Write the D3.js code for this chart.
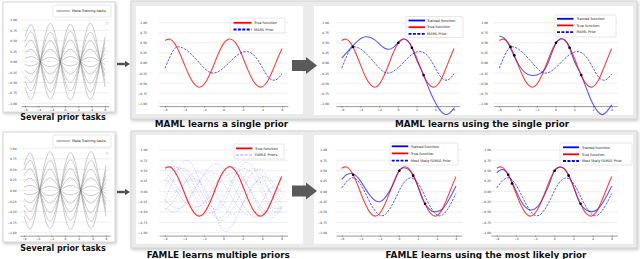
<!DOCTYPE html>
<html><head><meta charset="utf-8">
<script src="https://cdn.jsdelivr.net/npm/d3@7"></script>
<style>
html,body{margin:0;padding:0;background:#fff;overflow:hidden;}
svg{display:block;font-family:"DejaVu Sans",sans-serif;}
</style></head><body>
<div id="fig"></div>
<script>
// ---- data ----
const xsFine = [-6,-5.5,-5,-4.5,-4,-3.5,-3,-2.5,-2,-1.5,-1,-0.5,0,0.5,1,1.5,2,2.5,3,3.5,4,4.5,5,5.5,6];
const xsCoarse = [-6,-5,-4,-3,-2,-1,0,1,2,3,4,5,6];
const xTicks = [-6,-4,-2,0,2,4,6];
const yTicks = [1,0.75,0.5,0.25,0,-0.25,-0.5,-0.75,-1];

const trueFn = [0.56,0.59,0.48,0.25,-0.04,-0.32,-0.52,-0.60,-0.53,-0.33,-0.05,0.25,0.48,0.59,0.56,0.40,0.13,-0.17,-0.42,-0.57,-0.59,-0.46,-0.21,0.08,0.36];
const mamlPrior = [-0.13,0.15,0.36,0.40,0.35,0.26,0.14,0.01,-0.12,-0.22,-0.25,-0.21,-0.12,-0.01,0.11,0.21,0.27,0.28,0.22,0.08,-0.12,-0.32,-0.42,-0.40,-0.27];
const mamlTrained4 = [0.12,0.25,0.38,0.50,0.60,0.65,0.64,0.58,0.48,0.38,0.34,0.38,0.50,0.59,0.56,0.38,0.08,-0.16,-0.45,-0.74,-0.98,-1.17,-1.27,-1.25,-1.12];
const mamlTrained5 = [0.67,0.62,0.46,0.21,-0.02,-0.18,-0.28,-0.31,-0.30,-0.24,-0.10,0.18,0.47,0.60,0.57,0.38,0.05,-0.18,-0.45,-0.75,-1.02,-1.20,-1.28,-1.20,-1.04];
const famlePrior = [0.08,0.23,0.32,0.30,0.16,-0.05,-0.28,-0.47,-0.58,-0.57,-0.44,-0.24,0.00,0.20,0.31,0.31,0.20,0.00,-0.24,-0.44,-0.57,-0.58,-0.47,-0.28,-0.05];
const famleTrained4 = [0.29,0.40,0.43,0.38,0.24,0.06,-0.11,-0.22,-0.25,-0.17,0.00,0.22,0.49,0.57,0.53,0.38,0.12,-0.20,-0.38,-0.48,-0.49,-0.44,-0.30,-0.10,0.13];
const famleTrained5 = [0.45,0.53,0.47,0.28,0.02,-0.22,-0.38,-0.45,-0.42,-0.30,-0.08,0.18,0.49,0.58,0.55,0.38,0.12,-0.20,-0.38,-0.47,-0.49,-0.44,-0.30,-0.10,0.13];

const ctx4X = [-4.8,0.05,1.5,2.75];
const ctx4Y = [0.40,0.50,0.38,-0.30];
const ctx5X = [-4.8,-4.4,0.05,1.5,2.75];
const ctx5Y = [0.40,0.19,0.50,0.38,-0.30];

const metaTasks = [
  [0.60,0.88,0.28,-0.60,-0.88,-0.28,0.60,0.88,0.28,-0.60,-0.88,-0.28,0.60],
  [0.48,0.71,0.22,-0.48,-0.71,-0.22,0.48,0.71,0.22,-0.48,-0.71,-0.22,0.48],
  [0.35,0.51,0.16,-0.35,-0.51,-0.16,0.35,0.51,0.16,-0.35,-0.51,-0.16,0.35],
  [0.20,0.29,0.09,-0.20,-0.29,-0.09,0.20,0.29,0.09,-0.20,-0.29,-0.09,0.20],
  [0.08,0.12,0.04,-0.08,-0.12,-0.04,0.08,0.12,0.04,-0.08,-0.12,-0.04,0.08],
  [-0.07,-0.10,-0.03,0.07,0.10,0.03,-0.07,-0.10,-0.03,0.07,0.10,0.03,-0.07],
  [-0.20,-0.29,-0.09,0.20,0.29,0.09,-0.20,-0.29,-0.09,0.20,0.29,0.09,-0.20],
  [-0.34,-0.49,-0.15,0.34,0.49,0.15,-0.34,-0.49,-0.15,0.34,0.49,0.15,-0.34],
  [-0.47,-0.69,-0.22,0.47,0.69,0.22,-0.47,-0.69,-0.22,0.47,0.69,0.22,-0.47],
  [-0.61,-0.90,-0.28,0.61,0.90,0.28,-0.61,-0.90,-0.28,0.61,0.90,0.28,-0.61]
];
const famlePriors = [
  [-0.22,0.36,0.74,0.56,0.00,-0.42,-0.31,0.24,0.66,0.60,0.12,-0.37,-0.38],
  [-0.30,-0.05,0.20,0.30,0.10,-0.45,-0.95,-0.80,-0.30,0.15,0.20,-0.05,-0.30],
  [0.50,0.60,0.35,-0.10,-0.45,-0.50,-0.15,0.30,0.55,0.40,-0.05,-0.45,-0.50],
  [0.10,0.45,0.55,0.30,-0.15,-0.55,-0.60,-0.20,0.30,0.55,0.35,-0.10,-0.45],
  [-0.45,-0.20,0.20,0.45,0.40,0.05,-0.35,-0.55,-0.30,0.10,0.35,0.25,-0.05],
  [0.30,0.05,-0.25,-0.40,-0.25,0.10,0.45,0.60,0.35,-0.10,-0.50,-0.65,-0.40],
  [-0.20,-0.40,-0.35,0.00,0.40,0.65,0.55,0.15,-0.30,-0.60,-0.55,-0.20,0.10],
  [0.45,0.20,-0.15,-0.35,-0.30,0.00,0.30,0.45,0.30,-0.05,-0.40,-0.55,-0.35],
  [-0.40,-0.50,-0.30,0.05,0.40,0.45,0.20,-0.20,-0.50,-0.55,-0.25,0.10,0.00],
  [0.25,0.55,0.50,0.15,-0.30,-0.60,-0.70,-0.40,0.05,0.45,0.50,0.15,-0.20]
];

const titles = ['Several prior tasks','MAML learns a single prior','MAML learns using the single prior',
                'Several prior tasks','FAMLE learns multiple priors','FAMLE learns using the most likely prior'];

// ---- drawing ----
const W = 640, H = 259;
const svg = d3.select('#fig').append('svg').attr('width', W).attr('height', H);

const defs = svg.append('defs');
const sh = defs.append('filter').attr('id','shadow').attr('x','-5%').attr('y','-5%').attr('width','112%').attr('height','115%');
sh.append('feDropShadow').attr('dx',1).attr('dy',1.5).attr('stdDeviation',1.5)
  .attr('flood-color','#888').attr('flood-opacity',0.45);

const RED = 'red', BLUE = 'blue';

// frames
function box(x, y, w, h, fill, stroke, shadow){
  const r = svg.append('rect').attr('x',x).attr('y',y).attr('width',w).attr('height',h)
    .attr('fill',fill).attr('stroke',stroke).attr('stroke-width',1);
  if (shadow) r.attr('filter','url(#shadow)');
  return r;
}
box(3, 2, 112, 110, '#fff', '#d6d6d6', true);
box(3, 132, 112, 110, '#fff', '#d6d6d6', true);
box(131, 1, 506, 118, '#ebebeb', '#d4d4d4', true);
box(131, 131, 506, 117, '#ebebeb', '#d4d4d4', true);
box(136, 6, 167, 108, '#fff', 'none', false);
box(314, 6, 319, 109, '#fff', 'none', false);
box(136, 135, 167, 109, '#fff', 'none', false);
box(314, 135, 319, 109, '#fff', 'none', false);

// arrows
function arrow(x0, x1, xh, cy, shaftH, headH, col){
  svg.append('path')
    .attr('d', `M${x0},${cy-shaftH/2}L${xh},${cy-shaftH/2}L${xh},${cy-headH/2}L${x1},${cy}L${xh},${cy+headH/2}L${xh},${cy+shaftH/2}L${x0},${cy+shaftH/2}Z`)
    .attr('fill', col);
}
arrow(117, 130, 125, 64, 2.4, 6.5, '#555');
arrow(117, 130, 125, 192, 2.4, 6.5, '#555');
arrow(292, 317, 306, 65.5, 11, 17, '#5a5a5a');
arrow(292, 317, 306, 191, 11, 17, '#5a5a5a');

function panel(cfg){
  const ppu = (cfg.x1 - cfg.x0) / 12;
  const x = d3.scaleLinear().domain([-6.6, 6.6]).range([cfg.x0 - 0.6*ppu, cfg.x1 + 0.6*ppu]);
  const y = d3.scaleLinear().domain([-1, 1]).range([cfg.ym1, cfg.y1]);
  const g = svg.append('g');

  g.selectAll('line.grid').data(yTicks).join('line').attr('class','grid')
    .attr('x1', x(-6.6)).attr('x2', x(6.6)).attr('y1', d => y(d)).attr('y2', d => y(d))
    .attr('stroke', '#e3e3e3').attr('stroke-width', 0.6);

  const ya = g.append('g').attr('transform', `translate(${cfg.labelRight},0)`)
    .call(d3.axisLeft(y).tickValues(yTicks).tickSize(0).tickPadding(0).tickFormat(d3.format('.2f')));
  ya.select('.domain').remove();
  ya.selectAll('text').attr('font-size', 3).attr('font-family','DejaVu Sans').attr('fill','#333');

  const xa = g.append('g').attr('transform', `translate(0,${y(-1.07)})`)
    .call(d3.axisBottom(x).tickValues(xTicks).tickSize(1.5).tickSizeOuter(0).tickPadding(0.8).tickFormat(d3.format('d')));
  xa.select('.domain').attr('stroke', '#555').attr('stroke-width', 0.6);
  xa.selectAll('.tick line').attr('stroke', '#555').attr('stroke-width', 0.5);
  xa.selectAll('text').attr('font-size', 3).attr('font-family','DejaVu Sans').attr('fill','#333');

  const line = xs => d3.line().x((d, i) => x(xs[i])).y(d => y(d)).curve(d3.curveNatural);
  return {g, x, y, line};
}

function curve(p, xs, vals, col, w, op, dash){
  const path = p.g.append('path').datum(vals).attr('d', p.line(xs))
    .attr('fill','none').attr('stroke', col).attr('stroke-width', w).attr('stroke-opacity', op);
  if (dash) path.attr('stroke-dasharray', dash);
}

function points(p, xs, ys){
  p.g.selectAll('circle.ctx').data(xs).join('circle').attr('class','ctx')
    .attr('cx', d => p.x(d)).attr('cy', (d, i) => p.y(ys[i])).attr('r', 1.3).attr('fill','#000');
}

function legend(cfg){
  const g = svg.append('g');
  g.append('rect').attr('x', cfg.x).attr('y', cfg.y).attr('width', cfg.w).attr('height', cfg.h)
    .attr('rx', 1).attr('fill','#fff').attr('fill-opacity',0.85).attr('stroke','#cfcfcf').attr('stroke-width',0.5);
  cfg.rows.forEach((r, i) => {
    const ry = cfg.rowY[i];
    const l = g.append('line').attr('x1', cfg.hx0).attr('x2', cfg.hx1).attr('y1', ry).attr('y2', ry)
      .attr('stroke', r.col).attr('stroke-width', r.w).attr('stroke-opacity', r.op);
    if (r.dash) l.attr('stroke-dasharray', r.dash);
    g.append('text').attr('x', cfg.tx).attr('y', ry + 1.2).attr('font-size', 3.5).attr('fill','#222').text(r.label);
  });
}

const rowTrue = {label:'True function', col:RED, w:1.8, op:1};
const rowTrained = {label:'Trained function', col:BLUE, w:1.8, op:1};
const rowMaml = {label:'MAML Prior', col:BLUE, w:1.8, op:1, dash:'3,1.4'};

// Panel A and E: meta-training tasks
[{x0:25, x1:105, y1:20, ym1:103.3, labelRight:17, top:0}, {x0:24, x1:106, y1:148.3, ym1:232.7, labelRight:16.7, top:130}].forEach(cfg => {
  const p = panel(cfg);
  metaTasks.forEach(t => curve(p, xsCoarse, t, '#7a7a7a', 0.7, 0.55));
  legend({x:53, y:5+cfg.top, w:58, h:12, rowY:[11+cfg.top], hx0:56.5, hx1:70, tx:72,
          rows:[{label:'Meta-Training tasks', col:'#999', w:1.5, op:0.8}]});
  svg.append('rect').attr('x',106).attr('y',22.5+cfg.top).attr('width',2).attr('height',2)
    .attr('fill','none').attr('stroke','#ccc').attr('stroke-width',0.4);
});

// Panel B: MAML prior
{
  const p = panel({x0:165, x1:282, y1:22.7, ym1:103.3, labelRight:147});
  curve(p, xsFine, trueFn, RED, 1.1, 0.75);
  curve(p, xsFine, mamlPrior, BLUE, 1.0, 0.65, '2.4,1.2');
  legend({x:230, y:18, w:55, h:15, rowY:[22.8, 29.5], hx0:233.5, hx1:251.5, tx:254, rows:[rowTrue, rowMaml]});
}
// Panel C
{
  const p = panel({x0:341.7, x1:454, y1:22.7, ym1:103.3, labelRight:329});
  curve(p, xsFine, mamlTrained4, BLUE, 1.1, 0.65);
  curve(p, xsFine, trueFn, RED, 1.1, 0.75);
  curve(p, xsFine, mamlPrior, BLUE, 1.0, 0.65, '2.4,1.2');
  points(p, ctx4X, ctx4Y);
  legend({x:406, y:16.5, w:57, h:21, rowY:[20.5, 27.2, 33.8], hx0:408.5, hx1:425, tx:427, rows:[rowTrained, rowTrue, rowMaml]});
}
// Panel D
{
  const p = panel({x0:499.3, x1:611.7, y1:22.7, ym1:103.3, labelRight:488});
  curve(p, xsFine, mamlTrained5, BLUE, 1.1, 0.65);
  curve(p, xsFine, trueFn, RED, 1.1, 0.75);
  curve(p, xsFine, mamlPrior, BLUE, 1.0, 0.65, '2.4,1.2');
  points(p, ctx5X, ctx5Y);
  legend({x:555, y:15, w:61, h:22, rowY:[18.8, 25.4, 32.2], hx0:557, hx1:573.5, tx:576.5, rows:[rowTrained, rowTrue, rowMaml]});
}
// Panel F: FAMLE priors
{
  const p = panel({x0:165, x1:281.7, y1:150, ym1:232.7, labelRight:147.3});
  famlePriors.forEach(t => curve(p, xsCoarse, t, BLUE, 0.7, 0.22, '2,1'));
  curve(p, xsFine, trueFn, RED, 1.2, 0.8);
  legend({x:234, y:144, w:50, h:15, rowY:[148.4, 155], hx0:236, hx1:252.5, tx:255,
          rows:[rowTrue, {label:'FAMLE Priors', col:BLUE, w:1.5, op:0.25, dash:'3,1.4'}]});
}
const rowFamle = {label:'Most likely FAMLE Prior', col:BLUE, w:1.8, op:1, dash:'3,1.4'};
// Panel G
{
  const p = panel({x0:341.7, x1:456, y1:150, ym1:232.7, labelRight:327});
  curve(p, xsFine, famleTrained4, BLUE, 1.1, 0.65);
  curve(p, xsFine, trueFn, RED, 1.1, 0.75);
  curve(p, xsFine, famlePrior, BLUE, 1.0, 0.65, '2.4,1.2');
  points(p, ctx4X, ctx4Y);
  legend({x:390, y:143, w:68, h:22, rowY:[146.3, 153.4, 160.6], hx0:391.7, hx1:408.3, tx:410.7, rows:[rowTrained, rowTrue, rowFamle]});
}
// Panel H
{
  const p = panel({x0:496.7, x1:611.7, y1:150, ym1:232.7, labelRight:491});
  curve(p, xsFine, famleTrained5, BLUE, 1.1, 0.65);
  curve(p, xsFine, trueFn, RED, 1.1, 0.75);
  curve(p, xsFine, famlePrior, BLUE, 1.0, 0.65, '2.4,1.2');
  points(p, ctx5X, ctx5Y);
  legend({x:560, y:143, w:72, h:22, rowY:[147.3, 154.3, 161], hx0:563, hx1:579, tx:581.7, rows:[rowTrained, rowTrue, rowFamle]});
}

// titles
const titlePos = [
  {x:63, y:120, s:8}, {x:221.5, y:127, s:8.85}, {x:482, y:127, s:8.85},
  {x:63, y:250.5, s:8}, {x:218.3, y:257.5, s:8.85}, {x:486, y:257.5, s:8.85}
];
svg.selectAll('text.title').data(titles).join('text').attr('class','title')
  .attr('x', (d, i) => titlePos[i].x).attr('y', (d, i) => titlePos[i].y)
  .attr('text-anchor','middle').attr('font-size', (d, i) => titlePos[i].s)
  .attr('font-weight','bold').attr('fill','#111').text(d => d);
</script>
</body></html>
